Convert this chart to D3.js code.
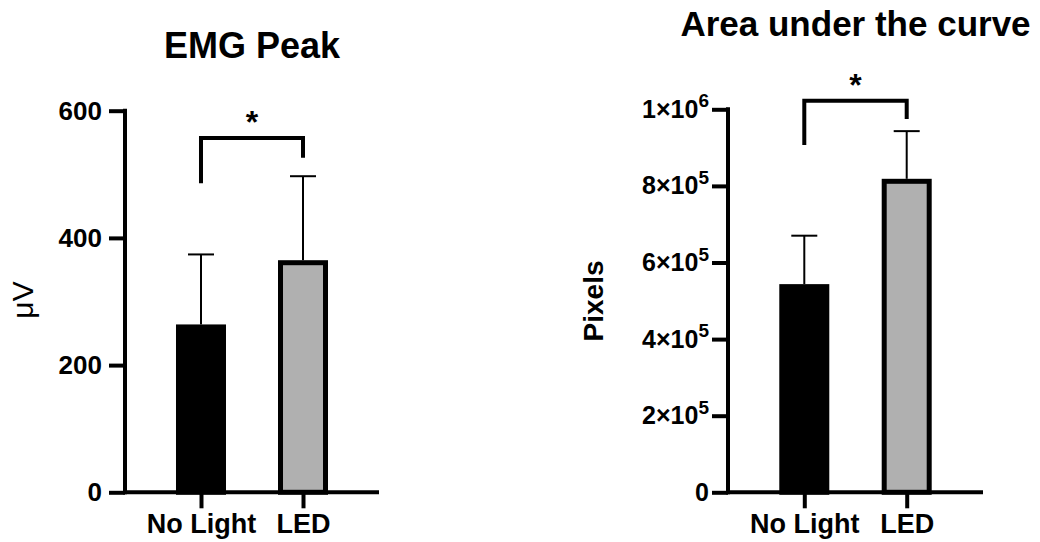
<!DOCTYPE html>
<html>
<head>
<meta charset="utf-8">
<script src="https://cdn.jsdelivr.net/npm/d3@7"></script>
<style>
  html, body { margin: 0; padding: 0; background: #fff; }
  svg { display: block; }
  text { font-family: "Liberation Sans", Arial, sans-serif; fill: #000; }
</style>
</head>
<body>
<svg id="chart" width="1040" height="542"></svg>
<script>
// ---------- data ----------
const categories = ["No Light", "LED"];
const barColors = ["#000000", "#b0b0b0"];

// EMG Peak (µV)
const emgMeans = [260, 361];
const emgErrors = [114, 136];
const emgTicks = [0, 200, 400, 600];
const emgTickLabels = ["0", "200", "400", "600"];
const emgBracket = [486, 557, 526]; // left leg end, bar level, right leg end

// Area under the curve (pixels)
const aucMeans = [537000, 812000];
const aucErrors = [133000, 131000];
const aucTicks = [0, 200000, 400000, 600000, 800000, 1000000];
const aucTickBase = ["0", "2×10", "4×10", "6×10", "8×10", "1×10"];
const aucTickExp = ["", "5", "5", "5", "5", "6"];
const aucBracket = [907000, 1022000, 975000];

const svg = d3.select("#chart");
const FONT = '"Liberation Sans", Arial, sans-serif';

function drawPanel(opt) {
  const g = svg.append("g");
  const x = d3.scalePoint().domain(categories).range([opt.x0, opt.x1]).padding(0.745);
  const y = d3.scaleLinear().domain([0, opt.yMax]).range([opt.y0, opt.y1]);

  // bars
  const barW = 45;
  g.selectAll("rect.bar").data(opt.means).enter().append("rect")
    .attr("x", (d, i) => x(categories[i]) - barW / 2)
    .attr("y", d => y(d))
    .attr("width", barW)
    .attr("height", d => y(0) - y(d))
    .attr("fill", (d, i) => barColors[i])
    .attr("stroke", "#000").attr("stroke-width", 5);

  // error bars
  const capW = 26;
  opt.means.forEach((m, i) => {
    const cx = x(categories[i]);
    const top = y(m + opt.errors[i]);
    g.append("line").attr("x1", cx).attr("x2", cx).attr("y1", y(m) - 2.5).attr("y2", top)
      .attr("stroke", "#000").attr("stroke-width", 2);
    g.append("line").attr("x1", cx - capW / 2).attr("x2", cx + capW / 2).attr("y1", top).attr("y2", top)
      .attr("stroke", "#000").attr("stroke-width", 2);
  });

  // y axis
  const yAxis = d3.axisLeft(y).tickValues(opt.ticks).tickSize(16).tickSizeOuter(0).tickPadding(opt.tickPad).tickFormat(() => "");
  const ya = g.append("g").attr("transform", `translate(${opt.x0},0)`).call(yAxis);
  ya.select(".domain").attr("stroke-width", 4).attr("d", `M0,${opt.y1 - 2}V${opt.y0 + 2}`);
  ya.selectAll(".tick line").attr("stroke-width", 4);
  ya.selectAll(".tick").each(function (d, i) {
    const t = d3.select(this).select("text")
      .attr("font-size", opt.tickFont).attr("font-weight", "bold")
      .attr("font-family", FONT);
    t.text(null);
    t.append("tspan").text(opt.labels[i]);
    if (opt.exps && opt.exps[i]) {
      t.append("tspan").text(opt.exps[i]).attr("font-size", 19).attr("dy", "-0.55em");
    }
  });

  // x axis
  const xAxis = d3.axisBottom(x).tickSize(16).tickSizeOuter(0).tickPadding(6);
  const xa = g.append("g").attr("transform", `translate(0,${opt.y0})`).call(xAxis);
  xa.select(".domain").attr("stroke-width", 4).attr("d", `M${opt.x0 - 2},0H${opt.x1}`);
  xa.selectAll(".tick line").attr("stroke-width", 4);
  xa.selectAll(".tick text")
    .attr("font-size", 27).attr("font-weight", "bold")
    .attr("font-family", FONT)
    .attr("dy", "0.71em");

  // significance bracket
  const bl = x(categories[0]), br = x(categories[1]);
  g.append("path")
    .attr("d", `M${bl},${y(opt.bracket[0])}V${y(opt.bracket[1])}H${br}V${y(opt.bracket[2])}`)
    .attr("fill", "none").attr("stroke", "#000").attr("stroke-width", 4);
  g.append("text").attr("x", (bl + br) / 2).attr("y", y(opt.bracket[1]) - 5)
    .attr("text-anchor", "middle").attr("font-size", 32).attr("font-weight", "bold").text("*");

  // title
  g.append("text").attr("x", (opt.x0 + opt.x1) / 2).attr("y", opt.titleY)
    .attr("text-anchor", "middle").attr("font-size", opt.titleFont).attr("font-weight", "bold").text(opt.title);

  // y label
  g.append("text").attr("transform", `translate(${opt.ylabX},${opt.ylabY}) rotate(-90)`)
    .attr("text-anchor", "middle").attr("font-size", opt.ylabSize)
    .attr("font-weight", opt.ylabWeight).text(opt.ylab);
}

drawPanel({
  x0: 125, x1: 379, y0: 492.3, y1: 110.7, yMax: 600,
  means: emgMeans, errors: emgErrors, ticks: emgTicks, labels: emgTickLabels, exps: null,
  tickPad: 7, tickFont: 26, bracket: emgBracket, title: "EMG Peak", titleY: 58, titleFont: 36,
  ylab: "μV", ylabX: 33, ylabY: 300, ylabSize: 30, ylabWeight: "normal"
});

drawPanel({
  x0: 728, x1: 983, y0: 492.3, y1: 109.3, yMax: 1000000,
  means: aucMeans, errors: aucErrors, ticks: aucTicks, labels: aucTickBase, exps: aucTickExp,
  tickPad: 3, tickFont: 25, bracket: aucBracket, title: "Area under the curve", titleY: 35.5, titleFont: 35,
  ylab: "Pixels", ylabX: 603, ylabY: 301, ylabSize: 28, ylabWeight: "bold"
});
</script>
</body>
</html>
